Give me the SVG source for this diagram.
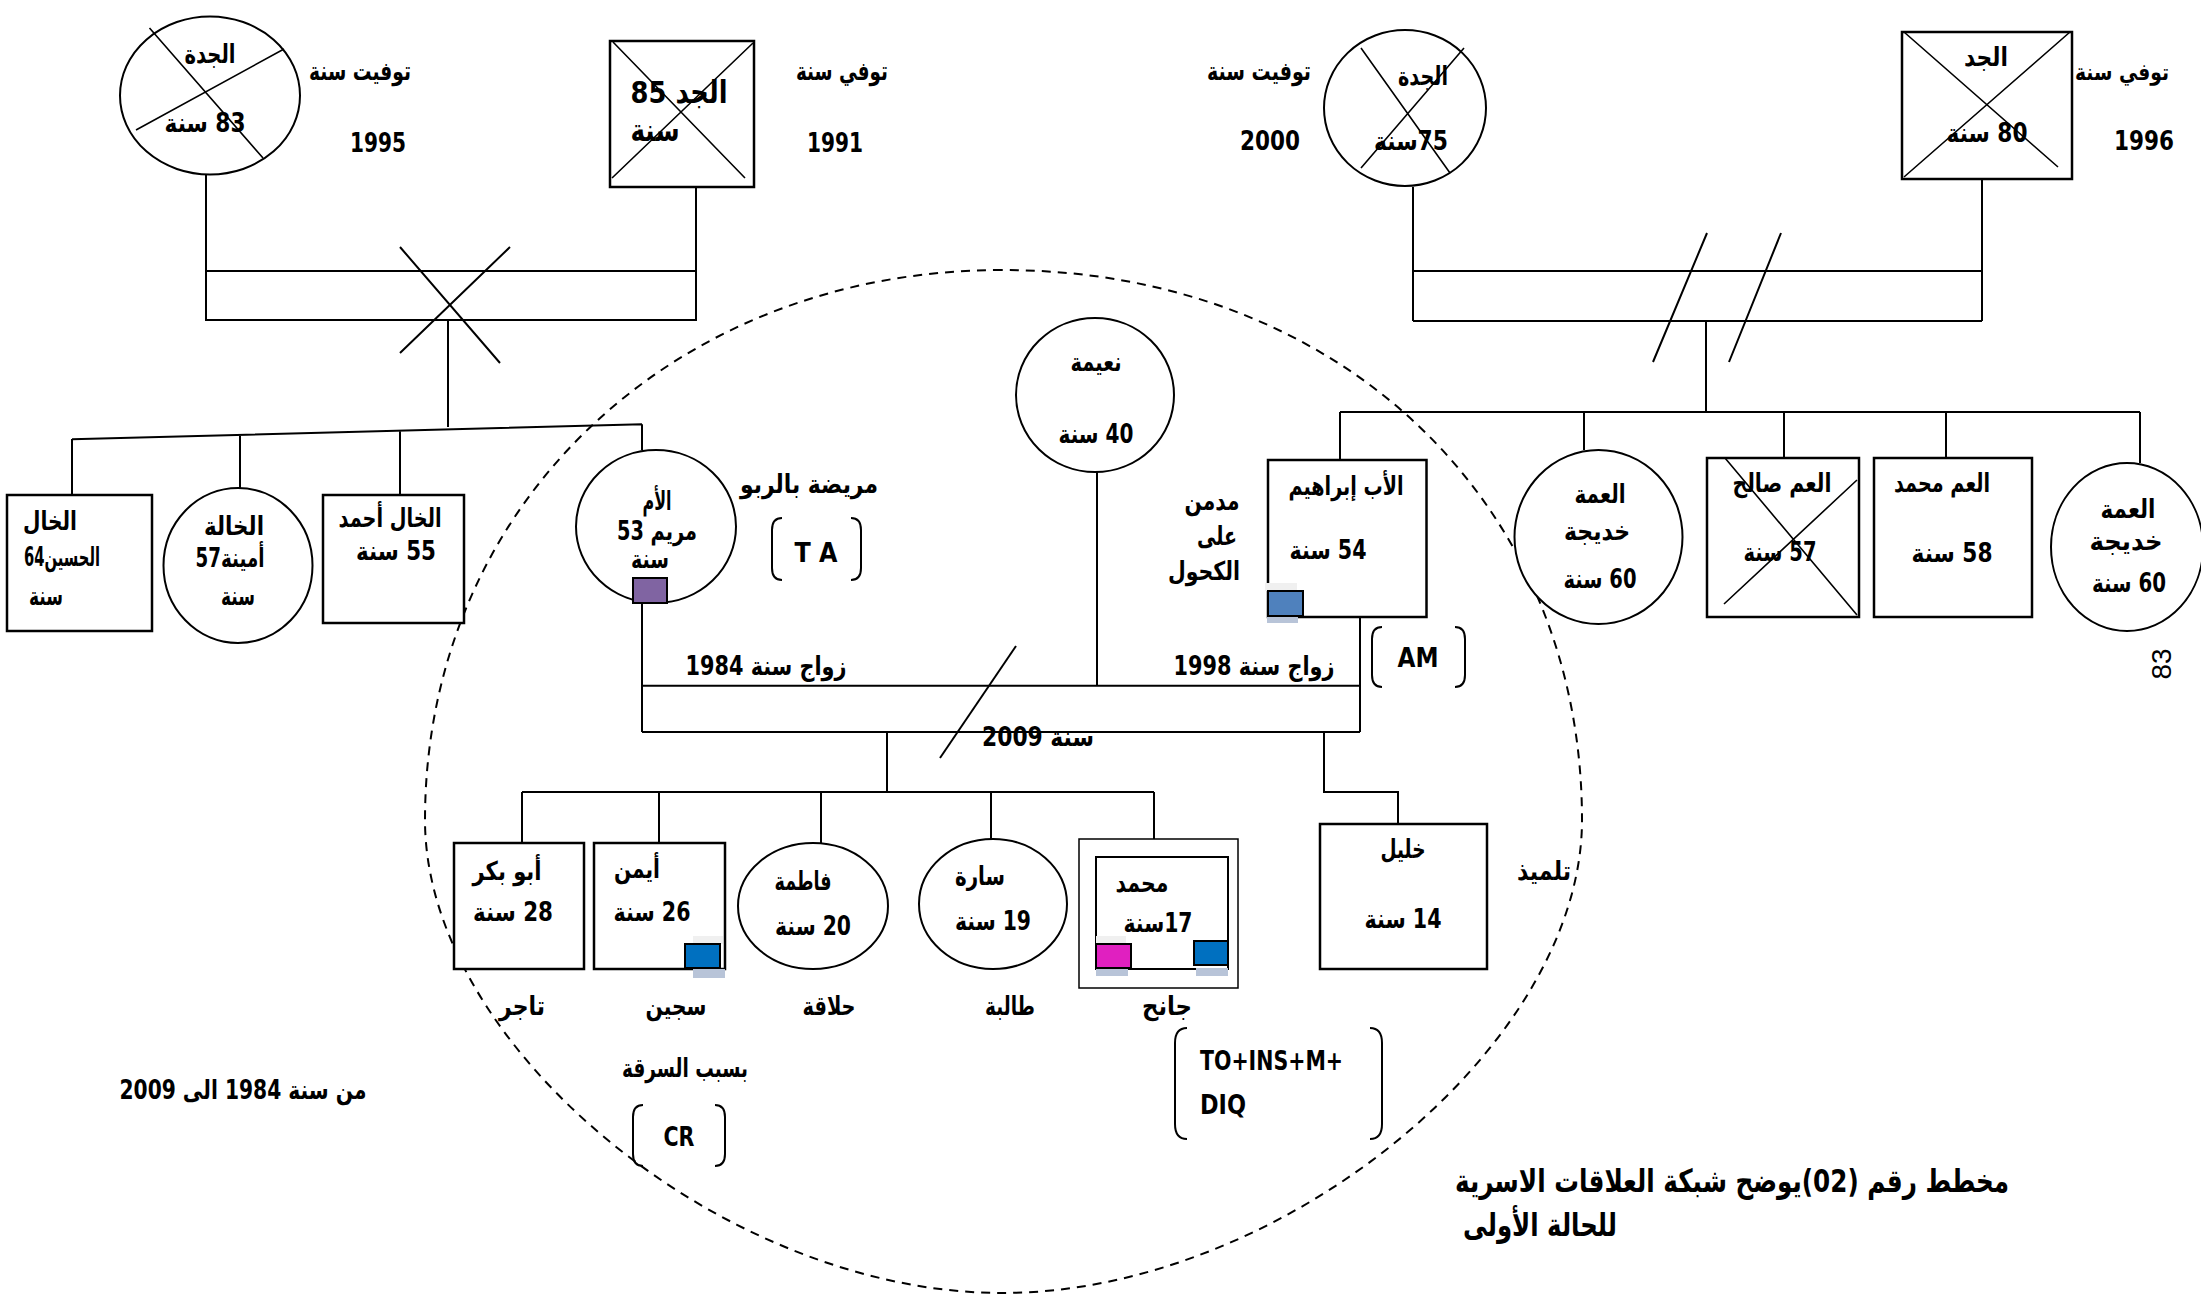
<svg xmlns="http://www.w3.org/2000/svg" width="2201" height="1294" viewBox="0 0 2201 1294">
<style>
.ln{stroke:#000;stroke-width:2;fill:none}
.bx{fill:#fff;stroke:#000;stroke-width:2.5}
.el{fill:#fff;stroke:#000;stroke-width:2}
.x{stroke:#000;stroke-width:1.6;fill:none}
.br{stroke:#000;stroke-width:2;fill:none}
.dash{stroke:#000;stroke-width:2;fill:none;stroke-dasharray:9 7}
text{font-family:'DejaVu Sans',sans-serif;font-weight:700;font-size:26px;text-anchor:middle;fill:#000}
.r{direction:rtl;unicode-bidi:embed}
.big{font-size:31px}
.ttl{font-size:32px}
</style>
<rect x="0" y="0" width="2201" height="1294" fill="#fff"/>
<path class="dash" d="M1002 270 C673 270 425 506 425 820 C425 1047 725 1293 1002 1293 C1280 1293 1582 1047 1582 820 C1582 501 1338 270 1002 270 Z"/>
<g id="connectors">
<path class="ln" d="M206 174V321M696 187V321M206 271H696M206 320H696M448 320V427"/>
<path class="ln" d="M400 247L500 363M510 247L400 353"/>
<path class="ln" d="M72 439.3L642 424.3M72 439V495M240 435V488M400 430.7V495M642 424.3V450"/>
<path class="ln" d="M1413 187V321M1982 179V321M1413 271H1982M1413 321H1982"/>
<path class="ln" d="M1707 233L1653 362M1781 233L1729 362"/>
<path class="ln" d="M1706 321V412M1340 412H2140M1340 412V460M1584 412V450M1784 412V458M1946 412V458M2140 412V463"/>
<path class="ln" d="M642 603V732M1360 617V732M642 685.7H1360M642 732H1360M1097 472V686"/>
<path class="ln" d="M1016 646L940 758"/>
<path class="ln" d="M887 732V792M522 792H1154M522 792V843M659 792V843M821 792V843M991 792V839M1154 792V839"/>
<path class="ln" d="M1324 732V792H1398V824"/>
</g>
<g id="marriage-labels">
<text class="r" x="766" y="675" textLength="161" lengthAdjust="spacingAndGlyphs">زواج سنة 1984</text>
<text class="r" x="1254" y="675" textLength="161" lengthAdjust="spacingAndGlyphs">زواج سنة 1998</text>
<text class="r" x="1038" y="746" textLength="112" lengthAdjust="spacingAndGlyphs">سنة 2009</text>
</g>
<g id="gm-left">
<ellipse class="el" cx="210" cy="95.5" rx="90" ry="79"/>
<path class="x" d="M149.5 28L263 158M284 49L136 130"/>
<text class="r" x="210" y="63" textLength="51" lengthAdjust="spacingAndGlyphs">الجدة</text>
<text class="r" x="205" y="132" textLength="81" lengthAdjust="spacingAndGlyphs">83 سنة</text>
<text class="r" x="360" y="80" textLength="102" lengthAdjust="spacingAndGlyphs">توفيت سنة</text>
<text x="378" y="152" textLength="56" lengthAdjust="spacingAndGlyphs">1995</text>
</g>
<g id="gf-left">
<rect class="bx" x="610" y="41" width="144" height="146" stroke-width="3"/>
<path class="x" d="M613 42L745 178M753 43L612 178"/>
<text class="r big" x="679" y="103" textLength="97" lengthAdjust="spacingAndGlyphs">الجد 85</text>
<text class="r big" x="655" y="141" textLength="49" lengthAdjust="spacingAndGlyphs">سنة</text>
<text class="r" x="842" y="80" textLength="92" lengthAdjust="spacingAndGlyphs">توفي سنة</text>
<text x="835" y="152" textLength="56" lengthAdjust="spacingAndGlyphs">1991</text>
</g>
<g id="gm-right">
<ellipse class="el" cx="1405" cy="108" rx="81" ry="78"/>
<path class="x" d="M1361 48L1450 173M1464 48L1361 168"/>
<text class="r" x="1423" y="85" textLength="50" lengthAdjust="spacingAndGlyphs">الجدة</text>
<text class="r" x="1411" y="150" textLength="74" lengthAdjust="spacingAndGlyphs">75سنة</text>
<text class="r" x="1259" y="80" textLength="104" lengthAdjust="spacingAndGlyphs">توفيت سنة</text>
<text x="1270" y="150" textLength="60" lengthAdjust="spacingAndGlyphs">2000</text>
</g>
<g id="gf-right">
<rect class="bx" x="1902" y="32" width="170" height="147"/>
<path class="x" d="M1904 32L2058 167M2070 32L1904 177"/>
<text class="r" x="1986" y="66" textLength="44" lengthAdjust="spacingAndGlyphs">الجد</text>
<text class="r" x="1987" y="142" textLength="81" lengthAdjust="spacingAndGlyphs">80 سنة</text>
<text x="2122" y="80" style="font-size:23px" textLength="94" lengthAdjust="spacingAndGlyphs">توفي سنة</text>
<text x="2144" y="150" textLength="60" lengthAdjust="spacingAndGlyphs">1996</text>
</g>
<g id="uncle-hussein">
<rect class="bx" x="7" y="495" width="145" height="136"/>
<text class="r" x="50" y="530" textLength="54" lengthAdjust="spacingAndGlyphs">الخال</text>
<text class="r" x="62" y="566" textLength="76" lengthAdjust="spacingAndGlyphs">الحسين64</text>
<text class="r" x="46" y="605" textLength="34" lengthAdjust="spacingAndGlyphs">سنة</text>
</g>
<g id="aunt-amina">
<ellipse class="el" cx="238" cy="565.5" rx="74.5" ry="77.5"/>
<text class="r" x="234" y="535" textLength="60" lengthAdjust="spacingAndGlyphs">الخالة</text>
<text class="r" x="230" y="567" textLength="69" lengthAdjust="spacingAndGlyphs">أمينة57</text>
<text class="r" x="238" y="605" textLength="34" lengthAdjust="spacingAndGlyphs">سنة</text>
</g>
<g id="uncle-ahmed">
<rect class="bx" x="323" y="495" width="141" height="128"/>
<text class="r" x="390" y="527" textLength="103" lengthAdjust="spacingAndGlyphs">الخال أحمد</text>
<text class="r" x="396" y="560" textLength="80" lengthAdjust="spacingAndGlyphs">55 سنة</text>
</g>
<g id="mother">
<ellipse class="el" cx="656" cy="526.5" rx="80" ry="76.5"/>
<rect x="633" y="578" width="34" height="25" fill="#8064a2" stroke="#000" stroke-width="2"/>
<text class="r" x="657" y="510" textLength="29" lengthAdjust="spacingAndGlyphs">الأم</text>
<text class="r" x="657" y="540" textLength="80" lengthAdjust="spacingAndGlyphs">مريم 53</text>
<text class="r" x="650" y="568" textLength="38" lengthAdjust="spacingAndGlyphs">سنة</text>
<text class="r" x="809" y="493" textLength="138" lengthAdjust="spacingAndGlyphs">مريضة بالربو</text>
<path class="br" d="M782 518Q772 518 772 530V568Q772 580 782 580M851 518Q861 518 861 530V568Q861 580 851 580"/>
<text x="816" y="562" textLength="43" lengthAdjust="spacingAndGlyphs">T A</text>
</g>
<g id="naima">
<ellipse class="el" cx="1095" cy="395" rx="79" ry="77"/>
<text class="r" x="1096" y="371" textLength="51" lengthAdjust="spacingAndGlyphs">نعيمة</text>
<text class="r" x="1096" y="443" textLength="75" lengthAdjust="spacingAndGlyphs">40 سنة</text>
</g>
<g id="father">
<rect class="bx" x="1268" y="460" width="158.5" height="157"/>
<rect x="1265" y="583" width="32" height="8" fill="#f0f0f0"/>
<rect x="1267" y="616" width="31" height="7" fill="#b8c4d8"/>
<rect x="1268" y="591" width="35" height="25" fill="#4f81bd" stroke="#000" stroke-width="2"/>
<text class="r" x="1346" y="495" textLength="115" lengthAdjust="spacingAndGlyphs">الأب إبراهيم</text>
<text class="r" x="1328" y="559" textLength="77" lengthAdjust="spacingAndGlyphs">54 سنة</text>
<text class="r" x="1212" y="510" textLength="55" lengthAdjust="spacingAndGlyphs">مدمن</text>
<text class="r" x="1217" y="545" textLength="40" lengthAdjust="spacingAndGlyphs">على</text>
<text class="r" x="1204" y="580" textLength="72" lengthAdjust="spacingAndGlyphs">الكحول</text>
<path class="br" d="M1382 627Q1372 627 1372 639V675Q1372 687 1382 687M1455 627Q1465 627 1465 639V675Q1465 687 1455 687"/>
<text x="1418" y="667" textLength="41" lengthAdjust="spacingAndGlyphs">AM</text>
</g>
<g id="aunt-khadija-1">
<ellipse class="el" cx="1598.5" cy="537" rx="84" ry="87"/>
<text class="r" x="1600" y="503" textLength="51" lengthAdjust="spacingAndGlyphs">العمة</text>
<text class="r" x="1597" y="540" textLength="66" lengthAdjust="spacingAndGlyphs">خديجة</text>
<text class="r" x="1600" y="588" textLength="73" lengthAdjust="spacingAndGlyphs">60 سنة</text>
</g>
<g id="uncle-saleh">
<rect class="bx" x="1707" y="458" width="152" height="159"/>
<path class="x" d="M1725 458L1857 615M1857 480L1724 604"/>
<text class="r" x="1782" y="492" textLength="99" lengthAdjust="spacingAndGlyphs">العم صالح</text>
<text class="r" x="1780" y="561" textLength="73" lengthAdjust="spacingAndGlyphs">57 سنة</text>
</g>
<g id="uncle-mohamed">
<rect class="bx" x="1874" y="458" width="158" height="159"/>
<text class="r" x="1942" y="492" textLength="96" lengthAdjust="spacingAndGlyphs">العم محمد</text>
<text class="r" x="1952" y="562" textLength="81" lengthAdjust="spacingAndGlyphs">58 سنة</text>
</g>
<g id="aunt-khadija-2">
<ellipse class="el" cx="2127" cy="547" rx="76" ry="84"/>
<text class="r" x="2128" y="518" textLength="55" lengthAdjust="spacingAndGlyphs">العمة</text>
<text class="r" x="2126" y="550" textLength="73" lengthAdjust="spacingAndGlyphs">خديجة</text>
<text class="r" x="2129" y="592" textLength="74" lengthAdjust="spacingAndGlyphs">60 سنة</text>
</g>
<text x="2161" y="664" transform="rotate(-90 2161 664)" style="font-family:'Liberation Sans',sans-serif;font-weight:400;font-size:28px" dy="10">83</text>
<g id="abubakr">
<rect class="bx" x="454" y="843" width="130" height="126"/>
<text class="r" x="507" y="880" textLength="69" lengthAdjust="spacingAndGlyphs">أبو بكر</text>
<text class="r" x="513" y="921" textLength="80" lengthAdjust="spacingAndGlyphs">28 سنة</text>
<text class="r" x="522" y="1015" textLength="46" lengthAdjust="spacingAndGlyphs">تاجر</text>
</g>
<g id="ayman">
<rect class="bx" x="594" y="843" width="131" height="126"/>
<rect x="693" y="936" width="30" height="8" fill="#f0f0f0"/>
<rect x="693" y="969" width="32" height="9" fill="#b8c4d8"/>
<rect x="685" y="944" width="35" height="24" fill="#0070c0" stroke="#000" stroke-width="2"/>
<text class="r" x="637" y="878" textLength="46" lengthAdjust="spacingAndGlyphs">أيمن</text>
<text class="r" x="652" y="921" textLength="77" lengthAdjust="spacingAndGlyphs">26 سنة</text>
<text class="r" x="676" y="1015" textLength="61" lengthAdjust="spacingAndGlyphs">سجين</text>
<text class="r" x="685" y="1077" textLength="126" lengthAdjust="spacingAndGlyphs">بسبب السرقة</text>
<path class="br" d="M643 1105Q633 1105 633 1117V1154Q633 1166 643 1166M715 1105Q725 1105 725 1117V1154Q725 1166 715 1166"/>
<text x="679" y="1146" textLength="31" lengthAdjust="spacingAndGlyphs">CR</text>
</g>
<g id="fatima">
<ellipse class="el" cx="813" cy="906" rx="75" ry="63"/>
<text class="r" x="803" y="890" textLength="57" lengthAdjust="spacingAndGlyphs">فاطمة</text>
<text class="r" x="813" y="935" textLength="76" lengthAdjust="spacingAndGlyphs">20 سنة</text>
<text class="r" x="829" y="1015" textLength="53" lengthAdjust="spacingAndGlyphs">حلاقة</text>
</g>
<g id="sara">
<ellipse class="el" cx="993" cy="904" rx="74" ry="65"/>
<text class="r" x="980" y="885" textLength="50" lengthAdjust="spacingAndGlyphs">سارة</text>
<text class="r" x="993" y="930" textLength="76" lengthAdjust="spacingAndGlyphs">19 سنة</text>
<text class="r" x="1010" y="1015" textLength="50" lengthAdjust="spacingAndGlyphs">طالبة</text>
</g>
<g id="mohamed">
<rect x="1079" y="839" width="159" height="149" fill="#fff" stroke="#000" stroke-width="1.5"/>
<rect x="1096" y="857" width="132" height="112" fill="#fff" stroke="#000" stroke-width="2"/>
<rect x="1096" y="936" width="30" height="8" fill="#f0f0f0"/>
<rect x="1096" y="968" width="32" height="8" fill="#b8c4d8"/>
<rect x="1196" y="968" width="32" height="8" fill="#b8c4d8"/>
<rect x="1096" y="944" width="35" height="24" fill="#e020c0" stroke="#000" stroke-width="2"/>
<rect x="1194" y="941" width="34" height="24" fill="#0070c0" stroke="#000" stroke-width="2"/>
<text class="r" x="1142" y="892" textLength="53" lengthAdjust="spacingAndGlyphs">محمد</text>
<text class="r" x="1158" y="932" textLength="69" lengthAdjust="spacingAndGlyphs">17سنة</text>
<text class="r" x="1167" y="1015" textLength="50" lengthAdjust="spacingAndGlyphs">جانح</text>
<path class="br" d="M1187 1028Q1175 1028 1175 1043V1124Q1175 1139 1187 1139M1370 1028Q1382 1028 1382 1043V1124Q1382 1139 1370 1139"/>
<text x="1200" y="1070" style="text-anchor:start" textLength="143" lengthAdjust="spacingAndGlyphs">TO+INS+M+</text>
<text x="1200" y="1114" style="text-anchor:start" textLength="46" lengthAdjust="spacingAndGlyphs">DIQ</text>
</g>
<g id="khalil">
<rect class="bx" x="1320" y="824" width="167" height="145"/>
<text class="r" x="1403" y="858" textLength="45" lengthAdjust="spacingAndGlyphs">خليل</text>
<text class="r" x="1403" y="928" textLength="77" lengthAdjust="spacingAndGlyphs">14 سنة</text>
<text class="r" x="1544" y="880" textLength="54" lengthAdjust="spacingAndGlyphs">تلميذ</text>
</g>
<g id="notes">
<text class="r" x="243" y="1099" textLength="247" lengthAdjust="spacingAndGlyphs">من سنة 1984 الى 2009</text>
<text class="r ttl" x="1732" y="1192" textLength="554" lengthAdjust="spacingAndGlyphs">مخطط رقم (02)يوضح شبكة العلاقات الاسرية</text>
<text class="r ttl" x="1540" y="1236" textLength="154" lengthAdjust="spacingAndGlyphs">للحالة الأولى</text>
</g>
</svg>
